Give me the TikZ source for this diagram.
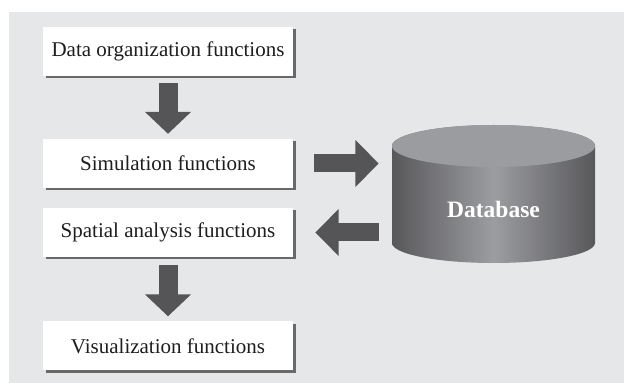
\documentclass[tikz,border=0pt]{standalone}
\usepackage{fontspec}
\setmainfont{Liberation Serif}
\usetikzlibrary{arrows.meta,shadows}
\definecolor{panel}{HTML}{E6E7E9}
\definecolor{arrowgray}{HTML}{555557}
\definecolor{dbdark}{HTML}{58585B}
\definecolor{dblight}{HTML}{9C9DA0}
\definecolor{dbtop}{HTML}{9B9CA0}
\definecolor{textdark}{HTML}{1E1E1E}
\tikzset{
  funcbox/.style={fill=white, minimum width=250pt, minimum height=49pt,
    inner sep=0pt, text=textdark, font=\fontsize{21}{25}\selectfont,
    drop shadow={shadow xshift=2.5pt, shadow yshift=-2.5pt, fill=black!75, opacity=0.75}},
  fatdown/.style={draw=arrowgray, line width=19pt,
    -{Triangle[length=22pt,width=45pt]}},
  fatside/.style={draw=arrowgray, line width=18pt,
    -{Triangle[length=23.5pt,width=45.5pt]}},
}
\begin{document}
\begin{tikzpicture}[x=1pt,y=1pt]
\useasboundingbox (0,0) rectangle (624,383);
% backdrop panel
\fill[panel] (9,0) rectangle (624,371);

% function boxes
\node[funcbox] (org)  at (168,331.5) {Data organization functions};
\node[funcbox] (sim)  at (168,219.5) {Simulation functions};
\node[funcbox] (spa)  at (168,150.5) {Spatial analysis functions};
\node[funcbox] (vis)  at (168,37)    {Visualization functions};

% database cylinder
\shade[left color=dbdark, right color=dbdark, middle color=dblight]
  (392,237) -- (392,140)
  arc[start angle=180, end angle=360, x radius=101.5, y radius=20]
  -- (595,237)
  arc[start angle=0, end angle=180, x radius=101.5, y radius=21] -- cycle;
\fill[dbtop] (493.5,237) ellipse[x radius=101.5, y radius=21];
\node[minimum width=203pt, minimum height=140pt, inner sep=0pt,
  text=white, font=\fontsize{23.5}{28}\selectfont\bfseries] (db) at (493.5,174) {Database};

% flow arrows
\draw[fatdown] ([yshift=-7pt]org.south) -- ([yshift=5pt]sim.north);
\draw[fatdown] ([yshift=-8pt]spa.south) -- ([yshift=5pt]vis.north);
\draw[fatside] ([xshift=21pt]sim.east) -- ([xshift=-13pt]db.west |- sim.east);
\draw[fatside] ([xshift=-13pt]db.west |- spa.east) -- ([xshift=22pt]spa.east);
\end{tikzpicture}
\end{document}
